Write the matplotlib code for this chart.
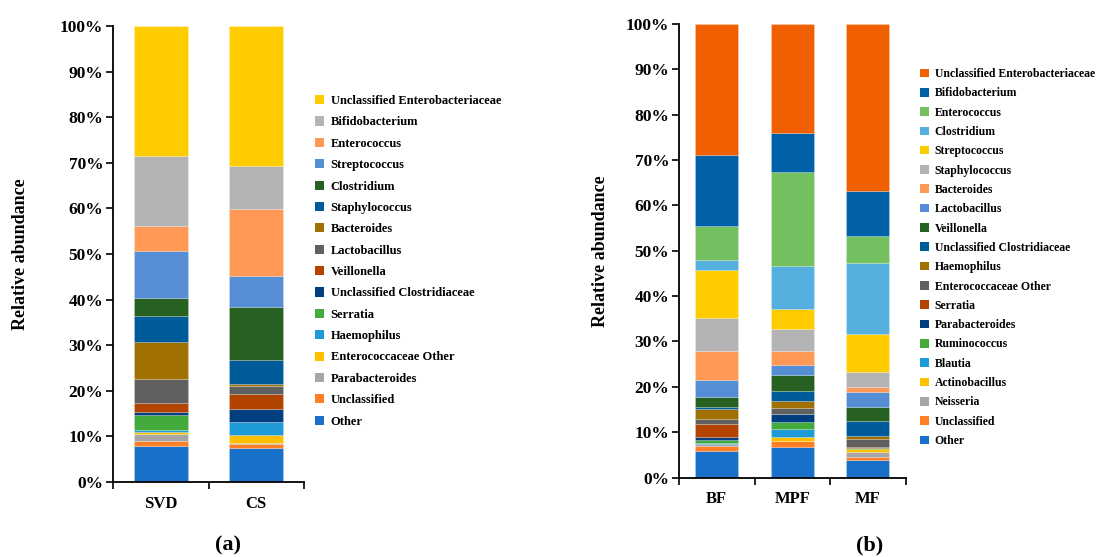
import matplotlib.pyplot as plt
import numpy as np
from matplotlib.patches import Patch
from matplotlib.ticker import FixedLocator

plt.rcParams['font.family'] = ['Liberation Serif', 'DejaVu Serif']
plt.rcParams['font.weight'] = 'bold'

# panel (a): stacking order bottom -> top
groups_a = ["SVD", "CS"]
taxa_a = ["Other", "Unclassified", "Parabacteroides", "Enterococcaceae Other", "Haemophilus",
          "Serratia", "Unclassified Clostridiaceae", "Veillonella", "Lactobacillus", "Bacteroides",
          "Staphylococcus", "Clostridium", "Streptococcus", "Enterococcus", "Bifidobacterium",
          "Unclassified Enterobacteriaceae"]
svd = [7.8, 1.1, 1.6, 0.5, 0.5, 3.1, 0.7, 2.1, 5.1, 8.2, 5.6, 4.1, 10.3, 5.4, 15.5, 28.4]
cs = [7.5, 0.9, 0.1, 1.9, 2.7, 0.1, 2.8, 3.3, 1.7, 0.5, 5.3, 11.5, 6.9, 14.6, 9.4, 30.8]
colors_a = ["#1870C8", "#FF7F27", "#A6A6A6", "#FFC000", "#1E9BD7", "#43AA3C", "#003F7F",
            "#B34400", "#606060", "#A07000", "#005B9A", "#266121", "#558ED5", "#FF9955",
            "#B4B4B4", "#FFCC00"]

# panel (b)
groups_b = ["BF", "MPF", "MF"]
taxa_b = ["Other", "Unclassified", "Neisseria", "Actinobacillus", "Blautia", "Ruminococcus",
          "Parabacteroides", "Serratia", "Enterococcaceae Other", "Haemophilus",
          "Unclassified Clostridiaceae", "Veillonella", "Lactobacillus", "Bacteroides",
          "Staphylococcus", "Streptococcus", "Clostridium", "Enterococcus", "Bifidobacterium",
          "Unclassified Enterobacteriaceae"]
bf = [5.9, 1.1, 0.3, 0.1, 0.3, 0.5, 0.7, 3.0, 0.9, 2.3, 0.5, 2.2, 3.8, 6.4, 7.1, 10.7, 2.2, 7.4, 15.7, 28.9]
mpf = [6.8, 1.2, 0.1, 0.9, 1.7, 1.6, 1.6, 0.1, 1.3, 1.6, 2.2, 3.5, 2.3, 3.0, 4.9, 4.4, 9.5, 20.6, 8.7, 24.0]
mf = [3.9, 0.6, 1.2, 0.5, 0.1, 0.2, 0.1, 0.05, 1.9, 0.7, 3.3, 3.0, 3.2, 1.3, 3.3, 8.4, 15.6, 5.9, 9.9, 36.85]
colors_b = ["#1870C8", "#FF7F27", "#A6A6A6", "#FFC000", "#1E9BD7", "#43AA3C", "#003F7F",
            "#B34400", "#606060", "#A07000", "#005B9A", "#266121", "#558ED5", "#FF9955",
            "#B4B4B4", "#FFCC00", "#55B0E0", "#74C060", "#0060A8", "#F06000"]


def stacked(ax, groups, series, taxa, colors):
    data = np.array(series, dtype=float).T
    x = np.arange(len(groups))
    bottom = np.zeros(len(groups))
    handles = []
    for row, name, c in zip(data, taxa, colors):
        ax.bar(x, row, 0.57, bottom=bottom, color=c, edgecolor=(1, 1, 1, 0.35), linewidth=0.4)
        bottom += row
        handles.append(Patch(facecolor=c, label=name))
    ax.set_xlim(-0.5, len(groups) - 0.5)
    ax.set_ylim(0, 100)
    ax.set_yticks(np.arange(0, 101, 10))
    ax.set_yticklabels([f"{v}%" for v in range(0, 101, 10)], fontsize=12.5, fontweight='bold')
    ax.xaxis.set_major_locator(FixedLocator(np.arange(len(groups) + 1) - 0.5))
    ax.set_xticklabels([])
    ax.xaxis.set_minor_locator(FixedLocator(x))
    ax.set_xticklabels(groups, minor=True, fontsize=12, fontweight='bold')
    ax.tick_params(axis='x', which='minor', length=0, pad=10)
    ax.tick_params(axis='x', which='major', length=5, width=1.2, direction='out')
    ax.tick_params(axis='y', length=5, width=1.2, direction='out', pad=2)
    for s in ("top", "right"):
        ax.spines[s].set_visible(False)
    for s in ("left", "bottom"):
        ax.spines[s].set_linewidth(1.3)
    ax.set_ylabel("Relative abundance", fontsize=13, fontweight='bold')
    return handles[::-1]


fig = plt.figure(figsize=(11.01, 5.57), dpi=100)
ax_a = fig.add_axes([113 / 1101, 75 / 557, 191 / 1101, 456 / 557])
ax_b = fig.add_axes([679 / 1101, 79.5 / 557, 226.5 / 1101, 453.5 / 557])

h_a = stacked(ax_a, groups_a, [svd, cs], taxa_a, colors_a)
h_b = stacked(ax_b, groups_b, [bf, mpf, mf], taxa_b, colors_b)
ax_a.yaxis.set_label_coords(-0.44, 0.5)
ax_b.yaxis.set_label_coords(-0.31, 0.5)

fig.legend(handles=h_a, loc='upper left', bbox_to_anchor=(315 / 1101, 1 - 95 / 557),
           frameon=False, fontsize=9, handlelength=0.75, handleheight=0.75,
           handletextpad=0.5, labelspacing=0.75, borderpad=0, borderaxespad=0)
fig.legend(handles=h_b, loc='upper left', bbox_to_anchor=(920 / 1101, 1 - 68 / 557),
           frameon=False, fontsize=8.5, handlelength=0.75, handleheight=0.75,
           handletextpad=0.5, labelspacing=0.62, borderpad=0, borderaxespad=0)

fig.text(228 / 1101, 1 - 545 / 557, "(a)", ha='center', va='center', fontsize=16, fontweight='bold')
fig.text(870 / 1101, 1 - 545 / 557, "(b)", ha='center', va='center', fontsize=16, fontweight='bold')

fig.savefig("out.png", dpi=100)
